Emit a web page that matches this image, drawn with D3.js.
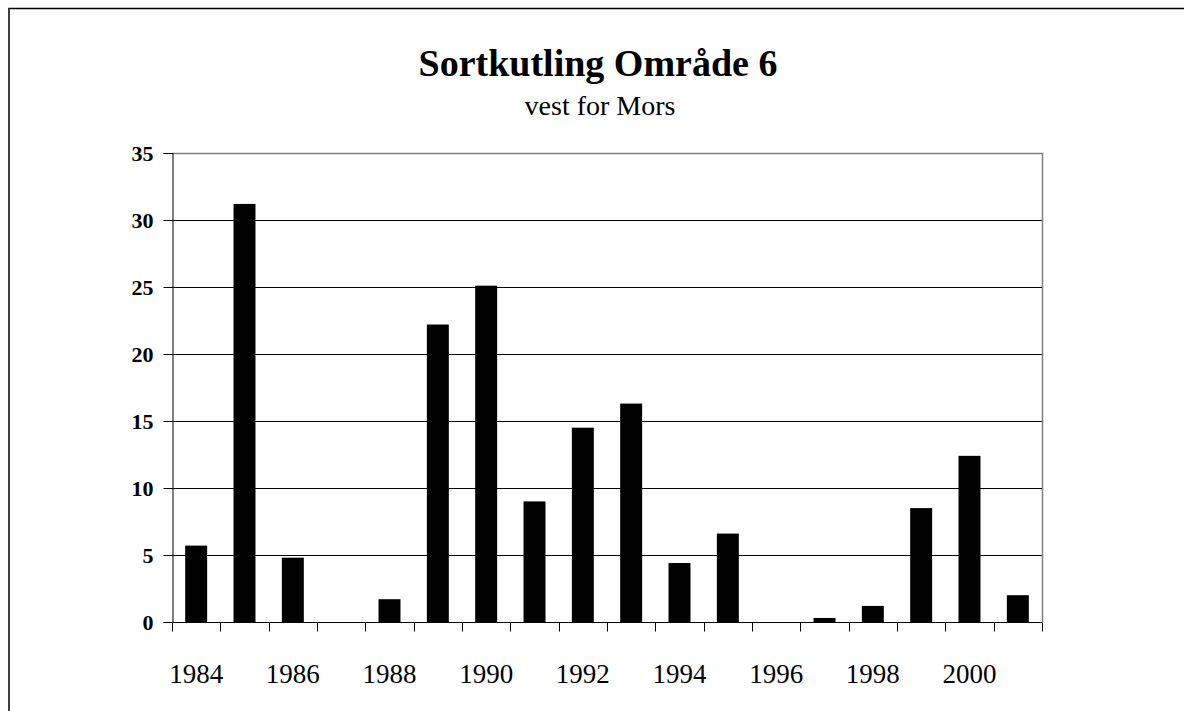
<!DOCTYPE html>
<html>
<head>
<meta charset="utf-8">
<script src="https://cdn.jsdelivr.net/npm/d3@7"></script>
<style>
  body { margin: 0; background: #fff; }
  svg { display: block; font-family: "Liberation Serif", "Times New Roman", serif; }
</style>
</head>
<body>
<svg></svg>
<script>
// data
const years = [1984, 1985, 1986, 1987, 1988, 1989, 1990, 1991, 1992, 1993, 1994, 1995, 1996, 1997, 1998, 1999, 2000, 2001]
const catch6 = [5.7, 31.2, 4.8, 0, 1.7, 22.2, 25.1, 9.0, 14.5, 16.3, 4.4, 6.6, 0, 0.3, 1.2, 8.5, 12.4, 2.0]
const yTicks = [0, 5, 10, 15, 20, 25, 30, 35]
const yearLabels = [1984, 1986, 1988, 1990, 1992, 1994, 1996, 1998, 2000]

const width = 1184
const height = 711
const margin = { left: 172, right: 1042, top: 153, bottom: 622 }

const svg = d3.select('svg').attr('width', width).attr('height', height)

// outer chart frame (runs off the right and bottom)
svg.append('rect')
    .attr('x', 9).attr('y', 8.5)
    .attr('width', 1300).attr('height', 800)
    .attr('fill', 'none')
    .attr('stroke', '#000')
    .attr('stroke-width', 1.5)

svg.append('text')
    .attr('x', 598).attr('y', 76)
    .attr('text-anchor', 'middle')
    .attr('font-weight', 'bold')
    .attr('font-size', 38)
    .text('Sortkutling Område 6')

svg.append('text')
    .attr('x', 600).attr('y', 115)
    .attr('text-anchor', 'middle')
    .attr('font-size', 28)
    .text('vest for Mors')

const x = d3.scaleBand().domain(years).range([margin.left, margin.right]).paddingInner(0).paddingOuter(0)
const y = d3.scaleLinear().domain([0, 35]).range([margin.bottom, margin.top])

// gridlines
svg.append('g')
    .selectAll('line')
    .data(yTicks.filter(d => d > 0 && d < 35))
    .join('line')
        .attr('x1', margin.left).attr('x2', margin.right)
        .attr('y1', d => Math.round(y(d)) + 0.5).attr('y2', d => Math.round(y(d)) + 0.5)
        .attr('stroke', '#000')

// grey frame top & right
svg.append('path')
    .attr('d', `M${margin.left},${margin.top + 0.5}H${margin.right + 0.5}V${margin.bottom}`)
    .attr('fill', 'none')
    .attr('stroke', '#808080')
    .attr('stroke-width', 1.5)

// bars
const barW = x.bandwidth() / 2.2
svg.append('g')
    .selectAll('rect')
    .data(years.map((yr, i) => ({ yr: yr, v: catch6[i] })))
    .join('rect')
        .attr('x', d => x(d.yr) + (x.bandwidth() - barW) / 2)
        .attr('width', barW)
        .attr('y', d => y(d.v))
        .attr('height', d => y(0) - y(d.v))
        .attr('fill', '#000')

// y axis
const yAxis = svg.append('g')
    .attr('transform', `translate(${margin.left + 0.5},0)`)
    .call(d3.axisLeft(y).tickValues(yTicks).tickSize(9).tickPadding(10))
yAxis.select('.domain').attr('stroke', '#000')
yAxis.selectAll('text')
    .attr('font-family', '"Liberation Serif", serif')
    .attr('font-weight', 'bold')
    .attr('font-size', 22)
    .attr('fill', '#000')

// x axis with ticks at band edges
const xAxis = svg.append('g').attr('transform', `translate(0,${margin.bottom + 0.5})`)
xAxis.append('line')
    .attr('x1', margin.left).attr('x2', margin.right + 0.5)
    .attr('stroke', '#000')
xAxis.selectAll('line.tick')
    .data(years.concat([null]))
    .join('line')
        .attr('class', 'tick')
        .attr('x1', (d, i) => Math.round(margin.left + i * x.step()) + 0.5)
        .attr('x2', (d, i) => Math.round(margin.left + i * x.step()) + 0.5)
        .attr('y1', 0).attr('y2', 9)
        .attr('stroke', '#000')
xAxis.selectAll('text')
    .data(yearLabels)
    .join('text')
        .attr('x', d => x(d) + x.bandwidth() / 2)
        .attr('y', 60)
        .attr('text-anchor', 'middle')
        .attr('font-size', 27)
        .text(d => d)
</script>
</body>
</html>
